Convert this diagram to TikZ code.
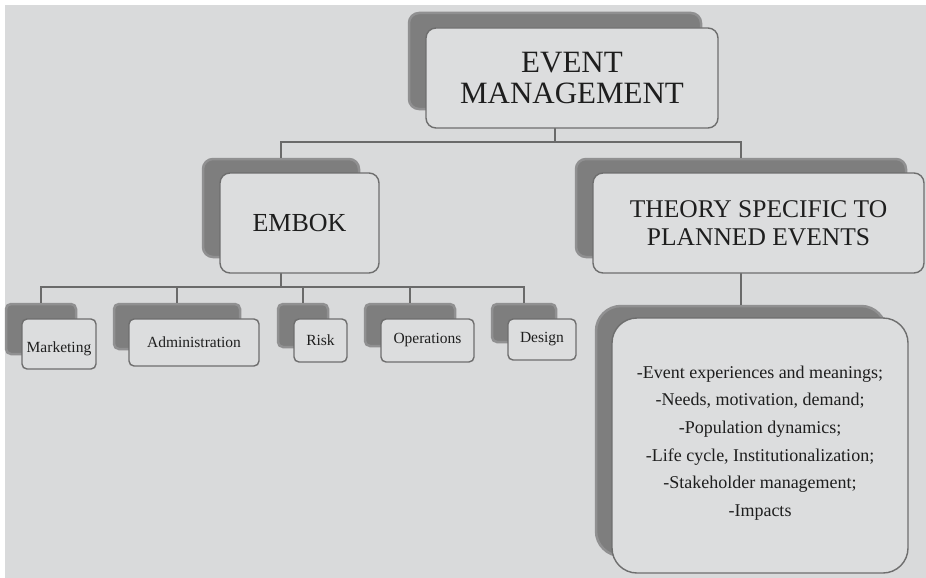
\documentclass[tikz,border=0pt]{standalone}
\usepackage{fontspec}
\setmainfont{Liberation Serif}
\usetikzlibrary{calc}
\definecolor{bg}{HTML}{D9DADB}
\definecolor{boxfill}{HTML}{DCDDDE}
\definecolor{edge}{HTML}{6E6E6E}
\definecolor{shade}{HTML}{7E7E7E}
\definecolor{connc}{HTML}{6A6A6A}
\definecolor{ink}{HTML}{1E1E1E}
\begin{document}
\begin{tikzpicture}[x=1pt,y=-1pt,
  shadowbox/.style={fill=shade, draw=shade!80!bg, line width=2.5pt, inner sep=0pt},
  mainbox/.style={draw=edge, line width=1.4pt, fill=boxfill, inner sep=0pt, text=ink, align=center},
  txt/.style={inner sep=0pt, text=ink, align=center},
  link/.style={draw=connc, line width=1.6pt}]
\useasboundingbox (0,0) rectangle (926,578);
\fill[white] (0,0) rectangle (926,578);
\fill[bg] (5,5) rectangle (926,578);

% shadows
\node[shadowbox, rounded corners=10pt, minimum width=292pt, minimum height=96pt] (emS) at (555,61) {};
\node[shadowbox, rounded corners=10pt, minimum width=156pt, minimum height=98pt] (embokS) at (281,208) {};
\node[shadowbox, rounded corners=10pt, minimum width=330pt, minimum height=98pt] (theoryS) at (741,208) {};
\node[shadowbox, rounded corners=25pt, minimum width=290pt, minimum height=250pt] (bigS) at (741,431) {};
\node[shadowbox, rounded corners=5pt, minimum width=70pt, minimum height=50pt] (mktS) at (41,329) {};
\node[shadowbox, rounded corners=5pt, minimum width=126pt, minimum height=45pt] (admS) at (177,326.5) {};
\node[shadowbox, rounded corners=5pt, minimum width=50pt, minimum height=43pt] (riskS) at (303,325.5) {};
\node[shadowbox, rounded corners=5pt, minimum width=90pt, minimum height=42pt] (opsS) at (410,325) {};
\node[shadowbox, rounded corners=5pt, minimum width=64pt, minimum height=38pt] (desS) at (524,323) {};

% connectors
\coordinate (j1) at (emS.south |- 0,142);
\draw[link] (emS.south |- 0,128) -- (j1);
\draw[link] (embokS.north) |- (j1) -| (theoryS.north);
\coordinate (j2) at (embokS.south |- 0,287);
\draw[link] (embokS.south |- 0,273) -- (j2);
\draw[link] (mktS.north) |- (j2) -| (desS.north);
\draw[link] (admS.north) -- (admS.north |- j2);
\draw[link] (riskS.north) -- (riskS.north |- j2);
\draw[link] (opsS.north) -- (opsS.north |- j2);
\draw[link] (theoryS.south |- 0,273) -- (bigS.north);

% boxes
\node[mainbox, rounded corners=10pt, minimum width=292pt, minimum height=100pt,
  font=\fontsize{31}{31}\selectfont] (em) at (572,78) {EVENT\\MANAGEMENT};
\node[mainbox, rounded corners=10pt, minimum width=159pt, minimum height=100pt,
  font=\fontsize{26}{28}\selectfont] (embok) at (299.5,223) {EMBOK};
\node[mainbox, rounded corners=10pt, minimum width=331pt, minimum height=100pt,
  font=\fontsize{25.5}{28}\selectfont] (theory) at (758.5,223) {THEORY SPECIFIC TO\\PLANNED EVENTS};
\node[mainbox, rounded corners=25pt, minimum width=296pt, minimum height=255pt] (big) at (760,445.5) {};
\node[txt, font=\fontsize{18}{27.6}\selectfont] (bigT) at (760,443)
  {-Event experiences and meanings;\\-Needs, motivation, demand;\\-Population dynamics;\\-Life cycle, Institutionalization;\\-Stakeholder management;\\-Impacts};

\node[mainbox, rounded corners=5pt, minimum width=74pt, minimum height=50pt] (mkt) at (59,344) {};
\node[txt, font=\fontsize{15.5}{17}\selectfont] (mktT) at (59,349) {Marketing};
\node[mainbox, rounded corners=5pt, minimum width=130pt, minimum height=47pt,
  font=\fontsize{15.5}{17}\selectfont] (adm) at (194,342.5) {Administration};
\node[mainbox, rounded corners=5pt, minimum width=53pt, minimum height=43pt,
  font=\fontsize{15.5}{17}\selectfont] (risk) at (320.5,340.5) {Risk};
\node[mainbox, rounded corners=5pt, minimum width=93pt, minimum height=43pt,
  font=\fontsize{15.5}{17}\selectfont] (ops) at (427.5,340.5) {Operations};
\node[mainbox, rounded corners=5pt, minimum width=68pt, minimum height=41pt,
  font=\fontsize{15.5}{17}\selectfont] (des) at (542,339.5) {Design};
\end{tikzpicture}
\end{document}
